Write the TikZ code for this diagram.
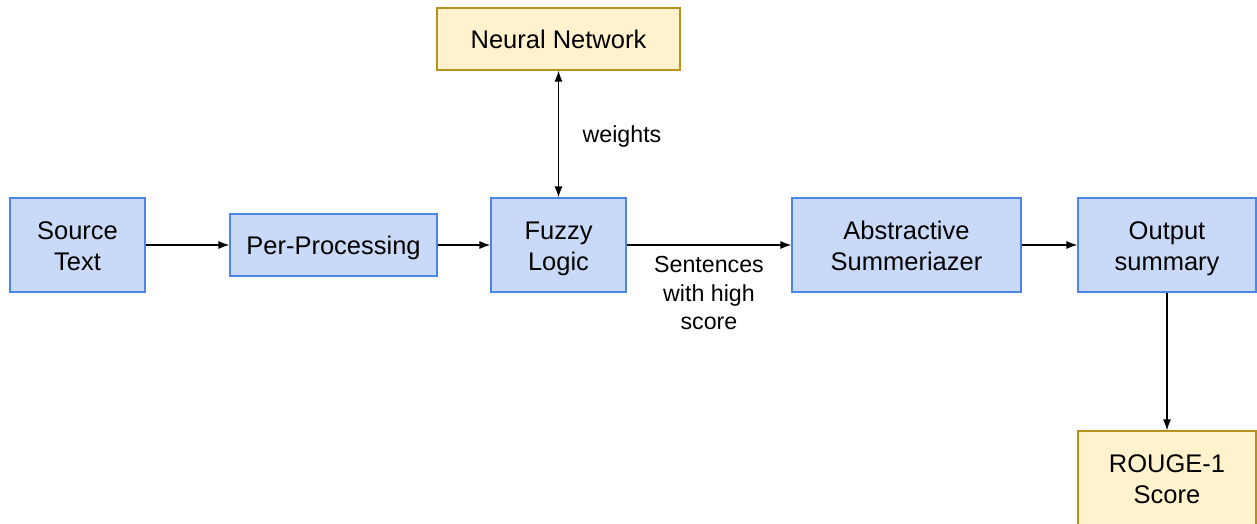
\documentclass[tikz,border=0pt]{standalone}
\usepackage{fontspec}
\setmainfont{Liberation Sans}
\usetikzlibrary{arrows.meta}
\definecolor{procfill}{HTML}{C9DAF8}
\definecolor{procline}{HTML}{4A86E8}
\definecolor{extfill}{HTML}{FFF2CC}
\definecolor{extline}{HTML}{B8901E}
% line struts: box lines and free labels
\newcommand{\bstrut}{\rule[-0.19\baselineskip]{0pt}{\baselineskip}}
\newcommand{\nstrut}{\rule[-0.23\baselineskip]{0pt}{\baselineskip}}
\tikzset{
  procbox/.style={draw=procline, fill=procfill, line width=1.2pt, align=center,
    font=\fontsize{25.5}{31}\selectfont, inner sep=0pt},
  extbox/.style={draw=extline, fill=extfill, line width=1.2pt, align=center,
    font=\fontsize{25.5}{31}\selectfont, inner sep=0pt},
  tip/.tip={Latex[length=11pt,width=8pt]},
  flow/.style={line width=1.3pt, -tip},
  note/.style={align=center, font=\fontsize{23.2}{28.5}\selectfont, inner sep=0pt}
}
\begin{document}
\begin{tikzpicture}[x=1pt,y=-1pt]
\useasboundingbox (0,0) rectangle (1257,523);
\node[procbox, minimum width=135pt, minimum height=94pt] (src) at (77.5,245) {\bstrut Source\\\bstrut Text};
\node[procbox, minimum width=207pt, minimum height=62pt] (pre) at (333.5,245) {\bstrut Per-Processing};
\node[procbox, minimum width=135pt, minimum height=94pt] (fuzzy) at (558.5,245) {\bstrut Fuzzy\\\bstrut Logic};
\node[procbox, minimum width=229pt, minimum height=94pt] (abs) at (906.5,245) {\bstrut Abstractive\\\bstrut Summeriazer};
\node[procbox, minimum width=178pt, minimum height=94pt] (out) at (1167,245) {\bstrut Output\\\bstrut summary};
\node[extbox, minimum width=243pt, minimum height=62pt] (nn) at (558.5,39) {\bstrut Neural Network};
\node[extbox, minimum width=178pt, minimum height=94pt] (rouge) at (1167,478) {\bstrut ROUGE-1\\\bstrut Score};

\draw[flow] (src) -- (pre);
\draw[flow] (pre) -- (fuzzy);
\draw[flow] (fuzzy) -- (abs);
\draw[flow] (abs) -- (out);
\draw[flow, tip-tip] (nn) -- (fuzzy);
\draw[flow] (out) -- (rouge);

\node[note] (w) at (622,135) {\nstrut weights};
\node[note] (s) at (709,293.5) {\nstrut Sentences\\\nstrut with high\\\nstrut score};
\end{tikzpicture}
\end{document}
